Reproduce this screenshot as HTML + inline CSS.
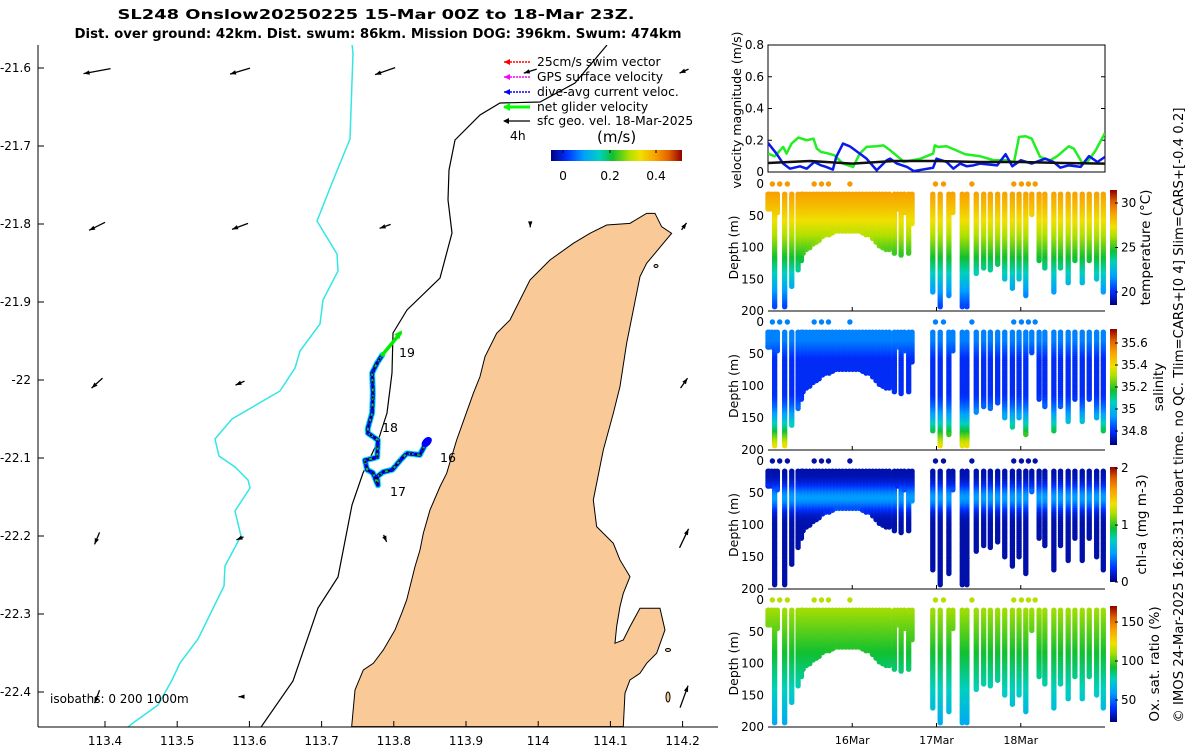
<!DOCTYPE html>
<html><head><meta charset="utf-8"><title>SL248 Onslow glider</title>
<style>
html,body{margin:0;padding:0;background:#fff;}
svg{display:block;font-family:"DejaVu Sans","Liberation Sans",sans-serif;}
</style></head>
<body>
<svg id="fig" width="1200" height="750" viewBox="0 0 1200 750" xmlns="http://www.w3.org/2000/svg">
<defs>
<clipPath id="mapclip"><rect x="38" y="45" width="680" height="682"/></clipPath>
<clipPath id="velclip"><rect x="768" y="45" width="337" height="127"/></clipPath>
<linearGradient id="jetH" x1="0" x2="1" y1="0" y2="0">
<stop offset="0" stop-color="#00007f"/><stop offset="0.12" stop-color="#0030ff"/><stop offset="0.25" stop-color="#00a0ff"/><stop offset="0.37" stop-color="#00d0c0"/><stop offset="0.47" stop-color="#10c030"/><stop offset="0.6" stop-color="#b0e000"/><stop offset="0.68" stop-color="#f0e000"/><stop offset="0.8" stop-color="#f8a000"/><stop offset="0.9" stop-color="#e06000"/><stop offset="1" stop-color="#900000"/>
</linearGradient>
<linearGradient id="jetV" x1="0" x2="0" y1="1" y2="0">
<stop offset="0" stop-color="#00007f"/><stop offset="0.12" stop-color="#0030ff"/><stop offset="0.25" stop-color="#00a0ff"/><stop offset="0.37" stop-color="#00d0c0"/><stop offset="0.47" stop-color="#10c030"/><stop offset="0.6" stop-color="#b0e000"/><stop offset="0.68" stop-color="#f0e000"/><stop offset="0.8" stop-color="#f8a000"/><stop offset="0.9" stop-color="#e06000"/><stop offset="1" stop-color="#900000"/>
</linearGradient>
</defs>

<text x="376" y="19" text-anchor="middle" font-size="13" font-weight="bold" textLength="517" lengthAdjust="spacingAndGlyphs">SL248 Onslow20250225 15-Mar 00Z to 18-Mar 23Z.</text>
<text x="378" y="38" text-anchor="middle" font-size="13" font-weight="bold" textLength="607" lengthAdjust="spacingAndGlyphs">Dist. over ground: 42km. Dist. swum: 86km. Mission DOG: 396km. Swum: 474km</text>

<g id="map">
 <g clip-path="url(#mapclip)">
  <path transform="translate(340,200) scale(0.3333)" fill="#f9ca98" stroke="#000" stroke-width="3"
   d="M35,1580 L45,1470 L70,1410 L100,1390 L130,1350 L165,1290 L185,1240 L200,1200 L225,1100 L240,1050 L250,1000 L270,930 L300,860 L320,820 L350,720 L375,650 L400,580 L420,530 L435,470 L470,400 L510,360 L530,320 L570,240 L630,180 L700,130 L750,100 L800,75 L870,70 L920,40 L945,40 L965,80 L995,100 L970,130 L920,190 L900,230 L880,330 L860,430 L840,560 L820,640 L790,750 L770,850 L760,900 L770,980 L820,1030 L840,1080 L870,1130 L850,1180 L840,1220 L830,1280 L825,1330 L850,1320 L870,1280 L900,1225 L960,1225 L975,1290 L950,1360 L920,1390 L900,1420 L870,1440 L855,1480 L850,1580 Z"/>
  <ellipse cx="656" cy="266" rx="2" ry="1.5" fill="#f9ca98" stroke="#000"/>
  <ellipse cx="668" cy="650" rx="2.5" ry="1.5" fill="#f9ca98" stroke="#000"/>
  <ellipse cx="668" cy="697" rx="2" ry="5" fill="#f9ca98" stroke="#000"/>
  <polyline fill="none" stroke="#33e6e6" stroke-width="1.5"
   points="352,44 353,53 350,139 332,183 317,221 337,254 338,271 323,300 320,324 300,351 295,368 280,391 232,419 215,439 219,456 235,467 248,480 250,488 235,511 241,536 225,566 224,586 198,639 180,663 172,680 158,705 133,723 124,730"/>
  <polyline fill="none" stroke="#000" stroke-width="1.2"
   points="607,45 575,83 540,102 500,103 480,115 455,140 449,170 448,200 452,233 440,278 407,310 393,333 392,373 387,413 378,441 363,473 352,505 338,577 318,608 293,681 259,730"/>
  <g id="arrows"></g>
  <g id="track"></g>
 </g>
 <line x1="38" y1="45" x2="38" y2="727" stroke="#000"/>
 <line x1="38" y1="727" x2="718" y2="727" stroke="#000"/>
 <g id="mapticks" font-size="12"></g>
 <text x="50" y="703" font-size="12">isobaths: 0   200  1000m</text>
 <text x="399" y="357" font-size="12.5">19</text>
 <text x="382" y="432" font-size="12.5">18</text>
 <text x="440" y="462" font-size="12.5">16</text>
 <text x="390" y="496" font-size="12.5">17</text>

 <g font-size="12.3">
  <line x1="504" y1="62" x2="530" y2="62" stroke="#f00" stroke-dasharray="2,1" stroke-width="1.5"/><path d="M504,62 l6,-3 v6z" fill="#f00"/>
  <text x="537" y="66">25cm/s swim vector</text>
  <line x1="504" y1="77" x2="530" y2="77" stroke="#f0f" stroke-dasharray="2,1" stroke-width="1.5"/><path d="M504,77 l6,-3 v6z" fill="#f0f"/>
  <text x="537" y="81">GPS surface velocity</text>
  <line x1="504" y1="92" x2="530" y2="92" stroke="#00f" stroke-dasharray="2,1" stroke-width="1.5"/><path d="M504,92 l6,-3 v6z" fill="#00f"/>
  <text x="537" y="96">dive-avg current veloc.</text>
  <line x1="504" y1="107" x2="530" y2="107" stroke="#0f0" stroke-width="3"/><path d="M503,107 l7,-4 v8z" fill="#0f0"/>
  <text x="537" y="111">net glider velocity</text>
  <line x1="504" y1="121" x2="530" y2="121" stroke="#000" stroke-width="1.3"/><path d="M503,121 l6,-3 v6z" fill="#000"/>
  <text x="537" y="125">sfc geo. vel. 18-Mar-2025</text>
  <text x="510" y="140">4h</text>
  <text x="597" y="142" font-size="15">(m/s)</text>
  <rect x="551" y="150" width="131" height="11" fill="url(#jetH)"/>
  <text x="563" y="180" text-anchor="middle">0</text>
  <text x="610" y="180" text-anchor="middle">0.2</text>
  <text x="656" y="180" text-anchor="middle">0.4</text>
  <line x1="563" y1="150" x2="563" y2="153" stroke="#000"/><line x1="610" y1="150" x2="610" y2="153" stroke="#000"/><line x1="656" y1="150" x2="656" y2="153" stroke="#000"/>
 </g>
</g>

<g id="vel">
 <rect x="768" y="45" width="337" height="127" fill="#fff" stroke="#000"/>
 <g id="velticks" font-size="12"></g>
 <g id="vellines" clip-path="url(#velclip)"></g>
 <text transform="translate(741,110) rotate(-90)" text-anchor="middle" font-size="12.5">velocity magnitude (m/s)</text>
</g>

<g id="profiles"></g>

<text transform="translate(1183,415) rotate(-90)" text-anchor="middle" font-size="13" textLength="615" lengthAdjust="spacingAndGlyphs">© IMOS 24-Mar-2025 16:28:31 Hobart time. no QC. Tlim=CARS+[0 4] Slim=CARS+[-0.4 0.2]</text>
</svg>

<script>
const NS = "http://www.w3.org/2000/svg";
// ---------- map data ----------
const mapLonTicks = [113.4,113.5,113.6,113.7,113.8,113.9,114,114.1,114.2];
const mapLatTicks = [-21.6,-21.7,-21.8,-21.9,-22,-22.1,-22.2,-22.3,-22.4];
const arrowGridLon = [113.389,113.587,113.788,113.989,114.202];
const arrowGridLat = [-21.604,-21.803,-22.004,-22.203,-22.406];
const arrowCol = [0,1,2,3,4, 0,1,2,3,4, 0,1,4, 0,1,2,4, 0,1,4];
const arrowRow = [0,0,0,0,0, 1,1,1,1,1, 2,2,2, 3,3,3,3, 4,4,4];
const arrowU = [-0.27,-0.2,-0.2,-0.13,-0.09, -0.16,-0.16,-0.11,0.0,0.05, -0.11,-0.09,0.07, -0.05,-0.07,0.03,0.09, -0.05,-0.03,0.08];
const arrowV = [-0.05,-0.06,-0.07,-0.04,-0.04, -0.08,-0.06,-0.04,-0.02,0.07, -0.1,-0.04,0.1, -0.12,-0.03,-0.07,0.19, -0.13,0,0.22];
const trackLon = [113.847,113.836,113.818,113.809,113.798,113.785,113.777,113.778,113.771,113.763,113.760,113.777,113.778,113.764,113.764,113.770,113.771,113.770,113.777,113.784];
const trackLat = [-22.077,-22.096,-22.094,-22.103,-22.115,-22.118,-22.124,-22.135,-22.119,-22.115,-22.103,-22.099,-22.077,-22.068,-22.062,-22.042,-22.017,-21.991,-21.978,-21.968];
const finalLon = 113.809, finalLat = -21.940;

function mx(lon){ return 105 + (lon-113.4)*722; }
function my(lat){ return 68 + (-21.6-lat)*780; }

const mt = document.getElementById('mapticks');
mapLonTicks.forEach(v=>{
  const t=document.createElementNS(NS,'text'); t.setAttribute('x',mx(v)); t.setAttribute('y',745); t.setAttribute('text-anchor','middle'); t.textContent=String(v);
  
  
  mt.appendChild(t);
  const l=document.createElementNS(NS,'line'); l.setAttribute('x1',mx(v)); l.setAttribute('x2',mx(v)); l.setAttribute('y1',727); l.setAttribute('y2',721); l.setAttribute('stroke','#000');
  
  
  mt.appendChild(l);
});
mapLatTicks.forEach(v=>{
  const t=document.createElementNS(NS,'text'); t.setAttribute('x',31); t.setAttribute('y',my(v)+4); t.setAttribute('text-anchor','end'); t.textContent=String(v);
  
  
  mt.appendChild(t);
  const l=document.createElementNS(NS,'line'); l.setAttribute('x1',38); l.setAttribute('x2',44); l.setAttribute('y1',my(v)); l.setAttribute('y2',my(v)); l.setAttribute('stroke','#000');
  
  
  mt.appendChild(l);
});

const ag = document.getElementById('arrows');
const K = 100;
for(let i=0;i<arrowU.length;i++){
  const cx=mx(arrowGridLon[arrowCol[i]]), cy=my(arrowGridLat[arrowRow[i]]);
  const dx=arrowU[i]*K, dy=-arrowV[i]*K;
  const x1=cx-dx/2, y1=cy-dy/2, x2=cx+dx/2, y2=cy+dy/2;
  const len=Math.hypot(dx,dy)||1, ux=dx/len, uy=dy/len;
  const g=document.createElementNS(NS,'g');
  
  
  const l=document.createElementNS(NS,'line'); l.setAttribute('x1',x1); l.setAttribute('y1',y1); l.setAttribute('x2',x2); l.setAttribute('y2',y2); l.setAttribute('stroke','#000'); l.setAttribute('stroke-width','1.3');
  g.appendChild(l);
  const h=document.createElementNS(NS,'path');
  const hx=x2-ux*6, hy=y2-uy*6;
  h.setAttribute('d',`M${x2},${y2} L${hx-uy*2.2},${hy+ux*2.2} L${hx+uy*2.2},${hy-ux*2.2} Z`);
  h.setAttribute('fill','#000');
  g.appendChild(h);
  ag.appendChild(g);
}

const tg = document.getElementById('track');
const pts = trackLon.map((v,i)=>[mx(v),my(trackLat[i])]);
function poly(ptsArr,stroke,w,name,dash){
  const p=document.createElementNS(NS,'polyline');
  p.setAttribute('points',ptsArr.map(p=>p.join(',')).join(' '));
  p.setAttribute('fill','none'); p.setAttribute('stroke',stroke); p.setAttribute('stroke-width',w);
  p.setAttribute('stroke-linejoin','round'); p.setAttribute('stroke-linecap','round');
  if(dash) p.setAttribute('stroke-dasharray',dash);
  
  
  tg.appendChild(p);
}
poly(pts,'#00e0e0',6,'track-speed-colour');
poly(pts,'#0000ff',4,'dive-avg-current-track','5,3');
poly(pts,'#10c030',2,'net-velocity-track','3,5');
poly(pts,'#000',1.5,'track-dots','1,4');
const blob=document.createElementNS(NS,'ellipse');
blob.setAttribute('cx',mx(trackLon[0])-1); blob.setAttribute('cy',my(trackLat[0])+2); blob.setAttribute('rx',6); blob.setAttribute('ry',4);
blob.setAttribute('transform',`rotate(-45 ${mx(trackLon[0])-1} ${my(trackLat[0])+2})`);
blob.setAttribute('fill','#0000ff');


tg.appendChild(blob);
const last=pts[pts.length-1], fx=mx(finalLon), fy=my(finalLat);
poly([last,[fx,fy]],'#00ee00',3.5,'final-net-velocity-arrow');
const fh=document.createElementNS(NS,'path');
fh.setAttribute('d',`M${fx+2},${fy-3} L${fx-6},${fy+1} L${fx-1},${fy+6} Z`);
fh.setAttribute('fill','#00ee00');


tg.appendChild(fh);

// ---------- velocity time series ----------
const greenT = [0,0.08,0.18,0.22,0.28,0.36,0.46,0.54,0.58,0.63,0.69,0.79,0.89,1.01,1.09,1.17,1.29,1.37,1.45,1.57,1.61,1.81,1.96,1.98,2.02,2.12,2.28,2.34,2.52,2.68,2.82,2.92,2.98,3.06,3.13,3.23,3.35,3.43,3.57,3.63,3.73,3.79,3.89,4.0];
const greenV = [0.116,0.099,0.158,0.116,0.179,0.217,0.2,0.21,0.147,0.126,0.12,0.105,0.053,0.032,0.116,0.158,0.162,0.168,0.137,0.084,0.063,0.084,0.116,0.168,0.158,0.162,0.126,0.112,0.099,0.074,0.074,0.063,0.221,0.225,0.21,0.095,0.074,0.099,0.162,0.147,0.057,0.063,0.137,0.246];
const blueT = [0,0.1,0.18,0.26,0.38,0.46,0.55,0.63,0.69,0.77,0.81,0.89,0.97,1.09,1.17,1.29,1.41,1.45,1.53,1.65,1.73,1.96,2.0,2.12,2.2,2.28,2.36,2.44,2.52,2.72,2.82,2.9,3.0,3.13,3.29,3.39,3.47,3.57,3.71,3.81,3.91,4.0];
const blueV = [0.183,0.116,0.053,0.021,0.036,0.021,0.063,0.042,0.032,0.015,0.095,0.179,0.162,0.116,0.084,0.011,0.074,0.084,0.053,0.032,0.006,0.027,0.084,0.063,0.021,0.053,0.036,0.042,0.053,0.042,0.112,0.036,0.074,0.053,0.084,0.063,0.027,0.042,0.032,0.1,0.063,0.095];
const blackT = [0,0.5,1.0,1.5,2.0,2.5,3.0,3.5,4.0];
const blackV = [0.057,0.069,0.053,0.069,0.069,0.063,0.063,0.057,0.053];
const velTicks = [0,0.2,0.4,0.6,0.8];

function tx(day){ return 768 + day*84.25; }
function vy(v){ return 172 - v/0.8*127; }

const vt=document.getElementById('velticks');
velTicks.forEach(v=>{
  const t=document.createElementNS(NS,'text'); t.setAttribute('x',764); t.setAttribute('y',vy(v)+4); t.setAttribute('text-anchor','end'); t.textContent=String(v);
  
  
  vt.appendChild(t);
  [[768,772],[1101,1105]].forEach(a=>{
    const l=document.createElementNS(NS,'line'); l.setAttribute('x1',a[0]); l.setAttribute('x2',a[1]); l.setAttribute('y1',vy(v)); l.setAttribute('y2',vy(v)); l.setAttribute('stroke','#000');
    
    
    vt.appendChild(l);
  });
});
const vl=document.getElementById('vellines');
function vline(T,V,color,name){
  const p=document.createElementNS(NS,'polyline');
  p.setAttribute('points',T.map((t,i)=>tx(t)+','+vy(V[i])).join(' '));
  p.setAttribute('fill','none'); p.setAttribute('stroke',color); p.setAttribute('stroke-width','2.5'); p.setAttribute('stroke-linejoin','round');
  
  
  vl.appendChild(p);
}
vline(greenT,greenV,'#22ee22','net-glider-speed-line');
vline(blueT,blueV,'#0a1aee','dive-avg-current-speed-line');
vline(blackT,blackV,'#111','geo-velocity-speed-line');

// ---------- profile data ----------
const profileDay = [0.0,0.012,0.044,0.079,0.111,0.198,0.282,0.357,0.397,0.417,0.456,0.496,0.536,0.575,0.607,0.647,0.687,0.726,0.766,0.806,0.845,0.885,0.925,0.964,1.004,1.044,1.083,1.123,1.163,1.202,1.242,1.282,1.321,1.361,1.401,1.44,1.5,1.54,1.58,1.619,1.67,1.71,
 1.956,2.044,2.147,2.194,2.306,2.361,2.472,2.56,2.639,2.726,2.81,2.901,2.98,3.06,3.131,3.218,3.286,3.393,3.472,3.563,3.643,3.73,3.813,3.901,3.98];
const profileMaxDepth = [35,35,35,195,40,195,160,135,120,108,100,97,92,88,85,80,78,76,74,72,71,70,70,70,70,71,72,73,76,78,82,90,96,98,100,100,107,35,110,40,107,60,
 170,195,175,40,195,195,140,130,135,125,150,165,150,175,45,120,130,170,130,155,120,155,120,150,170];
const surfaceDotDay = [0.052,0.139,0.23,0.548,0.635,0.718,0.972,1.988,2.083,2.42,2.917,3.008,3.091,3.171];
const depthTicks = [0,50,100,150,200];
const dayTickPos = [1,2,3];
const dayTickLabels = ['16Mar','17Mar','18Mar'];

const panelTop = [184,322,461,600];
const panelBot = [311,450,589,727];
const cbarTop = [190,329,467,606];
const cbarBot = [305,445,582,722];
const varNames = ['temperature','salinity','chl-a','oxygen'];
const varTitles = ['temperature (°C)','salinity','chl-a (mg m-3)','Ox. sat. ratio (%)'];
const varMin = [18.54,34.673,0,21.8];
const varMax = [31.46,35.727,2.02,170.5];
const cbarTickVals = [[20,25,30],[34.8,35,35.2,35.4,35.6],[0,1,2],[50,100,150]];
const cbarTickLabels = [['20','25','30'],['34.8','35','35.2','35.4','35.6'],['0','1','2'],['50','100','150']];
const titleX = [1150,1163,1146,1159];

// water-column models (colour by depth)
function valueAt(k,d){
  if(k===0) return 29 - 9*Math.pow(d/200,1.3);
  if(k===1){ if(d<25) return 34.9; if(d<110) return 34.9-0.11*Math.min(1,(d-25)/30); return 34.79+0.61*Math.pow((d-110)/85,1.5); }
  if(k===2) return 0.08+0.42*Math.exp(-Math.pow((d-55)/20,2));
  return 112 - 50*(d/200);
}
const cmapStops=[[0,[0,0,127]],[0.12,[0,48,255]],[0.25,[0,160,255]],[0.37,[0,208,192]],[0.47,[16,192,48]],[0.6,[176,224,0]],[0.68,[240,224,0]],[0.8,[248,160,0]],[0.9,[224,96,0]],[1,[144,0,0]]];
function cmap(f){
  f=Math.max(0,Math.min(1,f));
  for(let i=1;i<cmapStops.length;i++){
    if(f<=cmapStops[i][0]){
      const a=cmapStops[i-1],b=cmapStops[i],r=(f-a[0])/(b[0]-a[0]);
      const c=a[1].map((v,j)=>Math.round(v+(b[1][j]-v)*r));
      return `rgb(${c[0]},${c[1]},${c[2]})`;
    }
  }
  return 'rgb(144,0,0)';
}

const pg=document.getElementById('profiles');
for(let k=0;k<4;k++){
  const top=panelTop[k], bot=panelBot[k];
  const dy=d=>top+4+d/200*(bot-top-4);
  const g=document.createElementNS(NS,'g');
  
  
  pg.appendChild(g);
  for(let i=0;i<profileDay.length;i++){
    const x=tx(profileDay[i]);
    for(let d=10; d<=profileMaxDepth[i]; d+=3){
      const c=document.createElementNS(NS,'circle');
      c.setAttribute('cx',x); c.setAttribute('cy',dy(d)); c.setAttribute('r',2.7);
      c.setAttribute('fill',cmap((valueAt(k,d)-varMin[k])/(varMax[k]-varMin[k])));
      
      
      g.appendChild(c);
    }
  }
  surfaceDotDay.forEach(t=>{
    const c=document.createElementNS(NS,'circle');
    c.setAttribute('cx',tx(t)); c.setAttribute('cy',top); c.setAttribute('r',2.7);
    c.setAttribute('fill',cmap((valueAt(k,0)-varMin[k])/(varMax[k]-varMin[k])));
    
    
    g.appendChild(c);
  });
  const base=document.createElementNS(NS,'line');
  base.setAttribute('x1',768); base.setAttribute('x2',1105); base.setAttribute('y1',bot); base.setAttribute('y2',bot); base.setAttribute('stroke','#000');
  
  
  g.appendChild(base);
  depthTicks.forEach(d=>{
    const t=document.createElementNS(NS,'text');
    t.setAttribute('x',764); t.setAttribute('y',top+(bot-top)*d/200+4); t.setAttribute('text-anchor','end'); t.setAttribute('font-size','12');
    t.textContent=String(d);
    
    
    g.appendChild(t);
  });
  dayTickPos.forEach(p=>{
    const l=document.createElementNS(NS,'line');
    l.setAttribute('x1',tx(p)); l.setAttribute('x2',tx(p)); l.setAttribute('y1',bot); l.setAttribute('y2',bot-4); l.setAttribute('stroke','#000');
    
    
    g.appendChild(l);
  });
  const yl=document.createElementNS(NS,'text');
  yl.setAttribute('transform',`translate(738,${(top+bot)/2}) rotate(-90)`); yl.setAttribute('text-anchor','middle'); yl.setAttribute('font-size','12.5');
  yl.textContent='Depth (m)';
  
  
  g.appendChild(yl);
  const cb=document.createElementNS(NS,'rect');
  cb.setAttribute('x',1110); cb.setAttribute('y',cbarTop[k]); cb.setAttribute('width',7); cb.setAttribute('height',cbarBot[k]-cbarTop[k]); cb.setAttribute('fill','url(#jetV)');
  
  
  g.appendChild(cb);
  cbarTickVals[k].forEach((v,j)=>{
    const y=cbarBot[k]-(v-varMin[k])/(varMax[k]-varMin[k])*(cbarBot[k]-cbarTop[k]);
    const t=document.createElementNS(NS,'text');
    t.setAttribute('x',1121); t.setAttribute('y',y+4); t.setAttribute('font-size','12'); t.textContent=cbarTickLabels[k][j];
    
    
    g.appendChild(t);
    const l=document.createElementNS(NS,'line');
    l.setAttribute('x1',1115); l.setAttribute('x2',1118); l.setAttribute('y1',y); l.setAttribute('y2',y); l.setAttribute('stroke','#000');
    
    
    g.appendChild(l);
  });
  const ct=document.createElementNS(NS,'text');
  ct.setAttribute('transform',`translate(${titleX[k]},${(cbarTop[k]+cbarBot[k])/2}) rotate(-90)`); ct.setAttribute('text-anchor','middle'); ct.setAttribute('font-size','13.5');
  ct.textContent=varTitles[k];
  
  
  g.appendChild(ct);
}
dayTickPos.forEach((p,i)=>{
  const t=document.createElementNS(NS,'text');
  t.setAttribute('x',tx(p)); t.setAttribute('y',744); t.setAttribute('text-anchor','middle'); t.setAttribute('font-size','11');
  t.textContent=dayTickLabels[i];
  
  
  pg.appendChild(t);
});
</script>
</body></html>
